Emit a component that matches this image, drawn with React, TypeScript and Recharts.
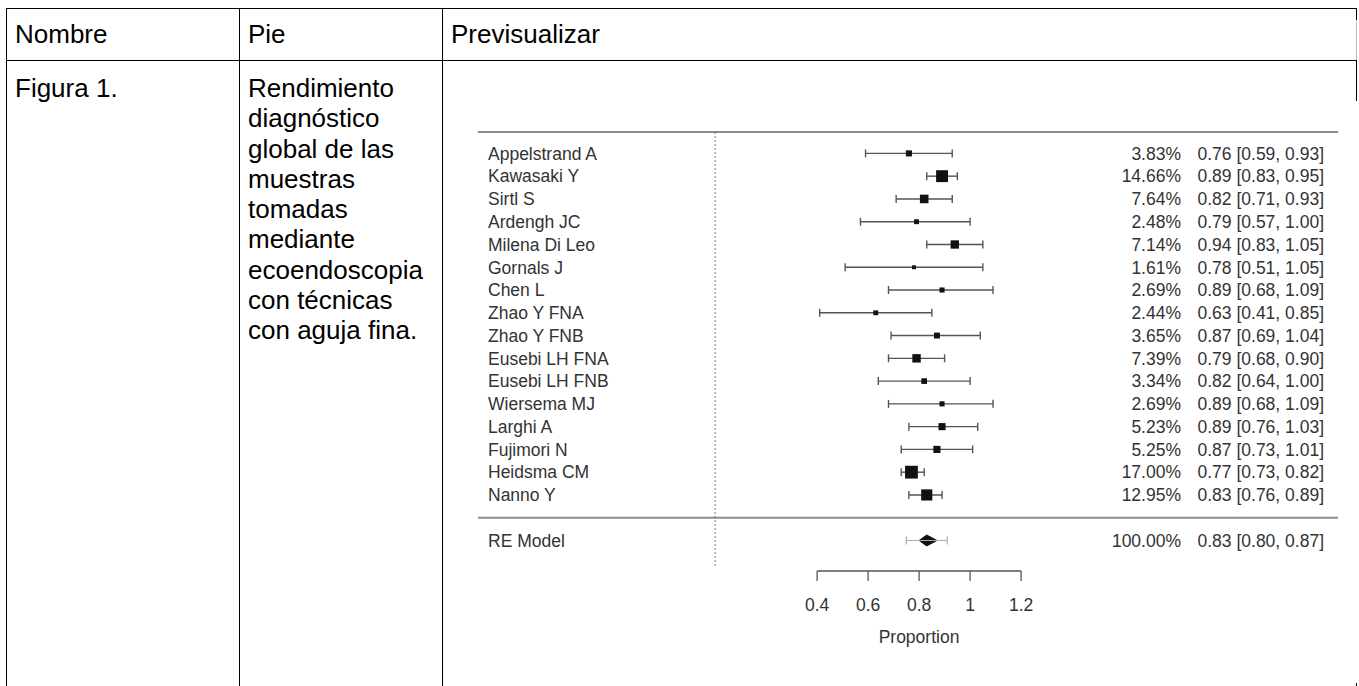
import React from 'react';
import { ComposedChart, Scatter, Area, XAxis, YAxis, ReferenceLine, ErrorBar, Label } from 'recharts';

// Estudios incluidos en el forest plot (de arriba a abajo)
const studies = [
  'Appelstrand A', 'Kawasaki Y', 'Sirtl S', 'Ardengh JC', 'Milena Di Leo', 'Gornals J',
  'Chen L', 'Zhao Y FNA', 'Zhao Y FNB', 'Eusebi LH FNA', 'Eusebi LH FNB', 'Wiersema MJ',
  'Larghi A', 'Fujimori N', 'Heidsma CM', 'Nanno Y',
];
const weights = [3.83, 14.66, 7.64, 2.48, 7.14, 1.61, 2.69, 2.44, 3.65, 7.39, 3.34, 2.69, 5.23, 5.25, 17.0, 12.95];
const estimates = [0.76, 0.89, 0.82, 0.79, 0.94, 0.78, 0.89, 0.63, 0.87, 0.79, 0.82, 0.89, 0.89, 0.87, 0.77, 0.83];
const lowers = [0.59, 0.83, 0.71, 0.57, 0.83, 0.51, 0.68, 0.41, 0.69, 0.68, 0.64, 0.68, 0.76, 0.73, 0.73, 0.76];
const uppers = [0.93, 0.95, 0.93, 1.0, 1.05, 1.05, 1.09, 0.85, 1.04, 0.9, 1.0, 1.09, 1.03, 1.01, 0.82, 0.89];

// modelo de efectos aleatorios
const reName = 'RE Model';
const reWeight = 100;
const reEstimate = 0.83;
const reLower = 0.8;
const reUpper = 0.87;
const rePredLower = 0.75;
const rePredUpper = 0.91;

const xTicks = [0.4, 0.6, 0.8, 1, 1.2];
const xTitle = 'Proportion';

const headers = ['Nombre', 'Pie', 'Previsualizar'];
const figureName = 'Figura 1.';
const captionLines = [
  'Rendimiento', 'diagnóstico', 'global de las', 'muestras', 'tomadas',
  'mediante', 'ecoendoscopia', 'con técnicas', 'con aguja fina.',
];

// layout
const FONT = "'Liberation Sans', Arial, Helvetica, sans-serif";
const PLOT_FONT = 17.5;
const TEXT_COLOR = '#333';
const X_MIN = -0.93;
const X_MAX = 2.443;
const ROW_TOP = -0.94;
const ROW_BOTTOM = 18.34;
const SEP_ROW = studies.length;
const RE_ROW = studies.length + 1;
const DIAMOND_HALF = 0.24;
const BOX_SCALE = 3.1;

const fmt = (v: number) => v.toFixed(2);

const studyRows = studies.map((name, i) => ({
  row: i,
  est: estimates[i],
  ci: [estimates[i] - lowers[i], uppers[i] - estimates[i]],
  weight: weights[i],
}));

const reRows = [{ row: RE_ROW, est: reEstimate, pi: [reEstimate - rePredLower, rePredUpper - reEstimate] }];

const diamond = [
  { est: reLower, band: [RE_ROW, RE_ROW] },
  { est: reEstimate, band: [RE_ROW - DIAMOND_HALF, RE_ROW + DIAMOND_HALF] },
  { est: reUpper, band: [RE_ROW, RE_ROW] },
];

const rowInfo: Record<number, { name: string; pct: string; text: string }> = {};
studies.forEach((name, i) => {
  rowInfo[i] = {
    name,
    pct: `${fmt(weights[i])}%`,
    text: `${fmt(estimates[i])} [${fmt(lowers[i])}, ${fmt(uppers[i])}]`,
  };
});
rowInfo[RE_ROW] = {
  name: reName,
  pct: `${fmt(reWeight)}%`,
  text: `${fmt(reEstimate)} [${fmt(reLower)}, ${fmt(reUpper)}]`,
};
const rowTicks = [...studies.map((_, i) => i), RE_ROW];

const NameTick = (props: any) => {
  const { x, y, payload } = props;
  const info = rowInfo[Math.round(payload.value)];
  if (!info) return null;
  return (
    <text x={x + 10} y={y} dy="0.36em" textAnchor="start" fontSize={PLOT_FONT} fill={TEXT_COLOR} fontFamily={FONT}>
      {info.name}
    </text>
  );
};

const StatTick = (props: any) => {
  const { x, y, payload } = props;
  const info = rowInfo[Math.round(payload.value)];
  if (!info) return null;
  return (
    <g fontSize={PLOT_FONT} fill={TEXT_COLOR} fontFamily={FONT}>
      <text x={x - 157} y={y} dy="0.36em" textAnchor="end">{info.pct}</text>
      <text x={x - 14} y={y} dy="0.36em" textAnchor="end">{info.text}</text>
    </g>
  );
};

const StudyBox = (props: any) => {
  const { cx, cy, payload } = props;
  const s = BOX_SCALE * Math.sqrt(payload.weight);
  return <rect x={cx - s / 2} y={cy - s / 2} width={s} height={s} fill="#111" />;
};

const Empty = () => <g />;

const Rule = ({ x, y, w, h, c = '#000' }: { x: number; y: number; w: number; h: number; c?: string }) => (
  <div style={{ position: 'absolute', left: x, top: y, width: w, height: h, background: c }} />
);

const ForestPlot = () => (
  <ComposedChart width={916} height={582} margin={{ top: 31, right: 20, bottom: 32, left: 34 }}>
    <XAxis
      type="number"
      dataKey="est"
      domain={[X_MIN, X_MAX]}
      allowDataOverflow
      ticks={xTicks}
      interval={0}
      axisLine={false}
      tickLine={{ stroke: '#555', strokeWidth: 1.3 }}
      tickSize={10}
      tickMargin={18}
      height={80}
      tick={{ fontSize: PLOT_FONT, fill: TEXT_COLOR, fontFamily: FONT }}
    >
      <Label value={xTitle} position="insideBottom" offset={8} dx={11} fill={TEXT_COLOR} fontSize={PLOT_FONT} fontFamily={FONT} />
    </XAxis>
    <YAxis
      yAxisId="l"
      type="number"
      dataKey="row"
      domain={[ROW_TOP, ROW_BOTTOM]}
      allowDataOverflow
      reversed
      ticks={rowTicks}
      interval={0}
      width={1}
      tickSize={0}
      tickMargin={0}
      axisLine={false}
      tickLine={false}
      tick={<NameTick />}
    />
    <YAxis
      yAxisId="r"
      orientation="right"
      type="number"
      dataKey="row"
      domain={[ROW_TOP, ROW_BOTTOM]}
      allowDataOverflow
      reversed
      ticks={rowTicks}
      interval={0}
      width={1}
      tickSize={0}
      tickMargin={0}
      axisLine={false}
      tickLine={false}
      tick={<StatTick />}
    />
    <ReferenceLine yAxisId="l" y={ROW_TOP} stroke="#8c8c8c" strokeWidth={2} ifOverflow="visible" />
    <ReferenceLine yAxisId="l" y={SEP_ROW} stroke="#8c8c8c" strokeWidth={2} ifOverflow="visible" />
    <ReferenceLine
      yAxisId="l"
      segment={[{ x: 0, y: ROW_TOP }, { x: 0, y: 18.17 }]}
      stroke="#777"
      strokeDasharray="2 2"
      ifOverflow="visible"
    />
    <ReferenceLine
      yAxisId="l"
      segment={[{ x: xTicks[0], y: ROW_BOTTOM }, { x: xTicks[xTicks.length - 1], y: ROW_BOTTOM }]}
      stroke="#555"
      strokeWidth={1.3}
      ifOverflow="visible"
    />
    <Scatter yAxisId="l" data={studyRows} dataKey="row" shape={<StudyBox />} isAnimationActive={false}>
      <ErrorBar dataKey="ci" direction="x" width={4} stroke="#555" strokeWidth={1.4} />
    </Scatter>
    <Scatter yAxisId="l" data={reRows} dataKey="row" shape={<Empty />} isAnimationActive={false}>
      <ErrorBar dataKey="pi" direction="x" width={4} stroke="#aaa" strokeWidth={1.2} />
    </Scatter>
    <Area
      yAxisId="l"
      data={diamond}
      dataKey="band"
      type="linear"
      stroke="#111"
      fill="#111"
      fillOpacity={1}
      dot={false}
      activeDot={false}
      isAnimationActive={false}
    />
  </ComposedChart>
);

export default function App() {
  const textBase: React.CSSProperties = {
    position: 'absolute',
    fontFamily: FONT,
    fontSize: 26,
    lineHeight: '30.3px',
    color: '#000',
    whiteSpace: 'nowrap',
  };
  return (
    <div style={{ position: 'absolute', left: 0, top: 0, width: 1359, height: 686, overflow: 'hidden', background: '#fff' }}>
      <Rule x={6} y={8} w={1351} h={1} />
      <Rule x={6} y={60} w={1351} h={1} />
      <Rule x={6} y={8} w={1} h={678} />
      <Rule x={239} y={8} w={1} h={678} />
      <Rule x={442} y={8} w={1} h={678} />
      <Rule x={1356} y={8} w={1} h={12} />
      <Rule x={1356} y={20} w={1} h={40} c="#bbb" />
      <Rule x={1356} y={60} w={1} h={41} />
      <Rule x={1356} y={683} w={1} h={3} />

      <div style={{ ...textBase, left: 15, top: 19 }}>{headers[0]}</div>
      <div style={{ ...textBase, left: 248, top: 19 }}>{headers[1]}</div>
      <div style={{ ...textBase, left: 451, top: 19 }}>{headers[2]}</div>
      <div style={{ ...textBase, left: 15, top: 73 }}>{figureName}</div>
      <div style={{ ...textBase, left: 248, top: 73 }}>
        {captionLines.map((l) => (
          <div key={l}>{l}</div>
        ))}
      </div>

      <div style={{ position: 'absolute', left: 443, top: 101, width: 916, height: 582, background: '#fff' }}>
        <ForestPlot />
      </div>
    </div>
  );
}
